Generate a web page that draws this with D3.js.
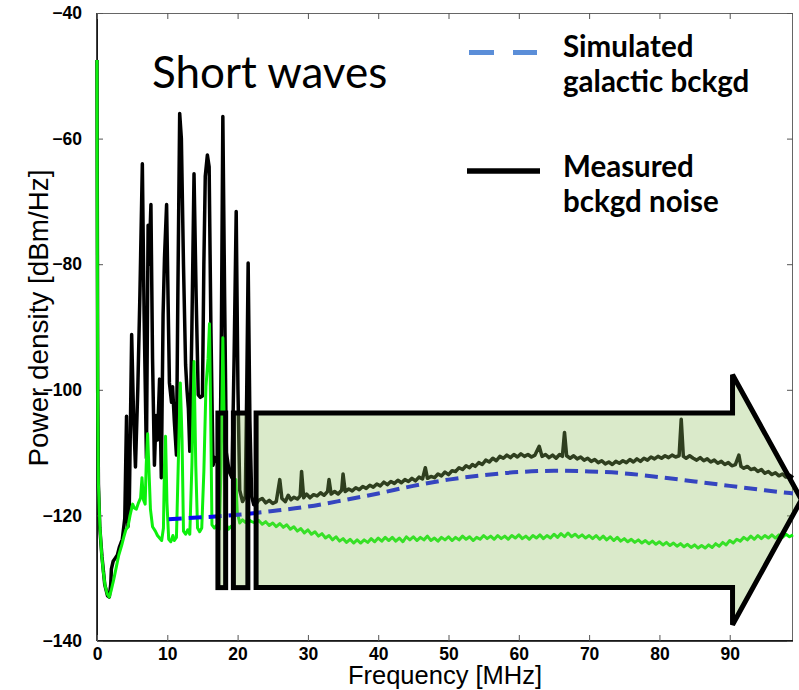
<!DOCTYPE html>
<html><head><meta charset="utf-8">
<script src="https://cdn.jsdelivr.net/npm/d3@7"></script>
<style>body{margin:0;background:#fff}svg{display:block}</style>
</head><body>
<svg id="chart" width="799" height="690"></svg>
<script>
// ---------- DATA ----------
const xTicks = [0,10,20,30,40,50,60,70,80,90];
const yTicks = [-40,-60,-80,-100,-120,-140];

// Measured background noise (black) [MHz, dBm/Hz]
const measured = [
[0,-47.5],[0.1,-100],[0.2,-115],[0.4,-122],[0.7,-126.5],[1.1,-131],[1.5,-132.8],[1.75,-133],[1.95,-131],[2.05,-128.5],[2.3,-127.3],[2.6,-126.8],[2.9,-126.3],[3.2,-125],[3.6,-123.8],[3.95,-120.5],[4.2,-104.2],[4.4,-121.8],[4.6,-118],[4.93,-91.2],[5.2,-104],[5.47,-112.3],[5.8,-100],[6.1,-85],[6.45,-64],[6.7,-88],[7.03,-110.9],[7.27,-73.8],[7.4,-80],[7.67,-70.5],[7.9,-95],[8.17,-112],[8.4,-104.1],[8.6,-108],[8.9,-98.3],[9.15,-114],[9.4,-88],[9.6,-79],[9.9,-70.5],[10.1,-85],[10.3,-98.9],[10.6,-102],[10.75,-99.5],[11.0,-105],[11.3,-110.4],[11.5,-85],[11.76,-56],[12.0,-60],[12.3,-80],[12.6,-96],[12.8,-100],[13.0,-103],[13.2,-109.8],[13.5,-90],[13.8,-65.6],[14.1,-85],[14.4,-100.8],[14.7,-101.2],[15.0,-101],[15.2,-80],[15.4,-66],[15.7,-62.6],[15.95,-64.5],[16.2,-90],[16.5,-112],[16.8,-110.8],[17.1,-111.5],[17.5,-112],[17.7,-90],[17.9,-56.5],[18.15,-85],[18.4,-110],[18.8,-113],[19.2,-114],[19.5,-95],[19.8,-71.6],[20.05,-100],[20.3,-116],[20.7,-117.8],[21.1,-117],[21.3,-100],[21.5,-79.8],[21.75,-105],[22.0,-117],[22.3,-118.3],
[22.5,-118.4],[23,-117.6],[23.5,-117.3],[24,-118.0],[24.5,-117.6],[25,-118.1],[25.5,-117.8],[26.0,-114.3],[26.3,-117.3],[26.8,-117.8],[27.2,-116.8],[27.6,-117.5],[28.0,-117.1],[28.5,-117.4],[28.9,-116.9],[29.1,-113.0],[29.4,-117.2],[29.8,-116.6],[30.3,-117.2],[30.8,-116.7],[31.3,-116.9],[31.8,-116.4],[32.3,-116.8],[32.8,-116.2],[33.0,-114.3],[33.3,-116.6],[33.8,-116.2],[34.3,-116.6],[34.8,-116.0],[35.0,-113.4],[35.3,-116.2],[35.8,-115.8],[36.3,-116.1],[36.8,-115.6],[37.3,-115.9],[37.8,-115.4],[38.3,-115.7],[38.8,-115.2],[39.3,-115.5],[39.8,-115.0],[40.3,-115.3],[40.8,-114.7],[41.3,-115.1],[41.8,-114.6],[42.3,-114.9],[42.8,-114.4],[43.3,-114.8],[43.8,-114.3],[44.3,-114.6],[44.8,-114.1],[45.3,-114.5],[45.8,-113.9],[46.3,-114.2],[46.7,-112.4],[47.0,-114.1],[47.5,-113.8],[48.0,-114.0],[48.5,-113.4],[49.0,-113.7],[49.5,-113.1],[50.0,-113.5],[50.5,-112.9],[51.0,-113.0],[51.5,-112.4],[52.0,-112.7],[52.5,-112.1],[53.0,-112.4],[53.4,-111.9],[53.8,-112.2],[54.3,-111.6],[54.8,-111.9],[55.3,-111.2],[55.8,-111.5],[56.3,-110.9],[56.8,-111.3],[57.3,-110.6],[57.8,-110.9],[58.3,-110.4],[58.8,-110.8],[59.3,-110.3],[59.8,-110.7],[60.3,-110.2],[60.8,-110.6],[61.3,-110.3],[61.8,-110.7],[62.3,-110.4],[62.9,-109.0],[63.3,-110.6],[63.8,-110.3],[64.3,-110.8],[64.8,-110.4],[65.3,-110.9],[65.8,-110.3],[66.2,-110.6],[66.5,-106.8],[66.8,-110.5],[67.3,-110.9],[67.8,-110.5],[68.3,-111.0],[68.8,-110.7],[69.3,-111.2],[69.8,-110.9],[70.3,-111.4],[70.8,-111.1],[71.3,-111.6],[71.8,-111.3],[72.3,-111.8],[72.8,-111.5],[73.3,-111.9],[73.8,-111.4],[74.3,-111.7],[74.8,-111.3],[75.3,-111.6],[75.8,-111.1],[76.3,-111.5],[76.8,-111.0],[77.3,-111.4],[77.8,-110.9],[78.3,-111.2],[78.8,-110.7],[79.3,-111.0],[79.8,-110.6],[80.3,-110.9],[80.8,-110.5],[81.3,-110.8],[81.8,-110.4],[82.3,-110.7],[82.8,-110.5],[83.1,-104.7],[83.4,-110.6],[83.8,-110.9],[84.3,-110.5],[84.8,-110.9],[85.3,-111.2],[85.8,-110.8],[86.3,-111.3],[86.8,-111.0],[87.3,-111.5],[87.8,-111.2],[88.3,-111.7],[88.8,-111.4],[89.3,-111.9],[89.8,-111.6],[90.3,-112.1],[90.8,-111.9],[91.3,-110.4],[91.6,-112.2],[92.0,-112.5],[92.5,-112.2],[93.0,-112.7],[93.5,-112.5],[94.0,-113.0],[94.5,-112.7],[95.0,-113.3],[95.5,-113.0],[96.0,-113.5],[96.5,-113.2],[97.0,-113.7],[97.5,-113.4],[98.0,-113.9],[98.5,-113.6],[99.0,-114.0]
];

// Second measured trace (green)
const greenTrace = [
[0,-47.5],[0.05,-80],[0.12,-105],[0.2,-115],[0.4,-121.5],[0.67,-126.3],[0.9,-129],[1.15,-131.2],[1.45,-132.5],[1.75,-133],[2.05,-131.8],[2.4,-130.1],[2.75,-128.2],[3.1,-126.3],[3.5,-124.8],[3.8,-123.5],[4.1,-122.3],[4.4,-121.8],[4.7,-120],[5.07,-118.2],[5.3,-118.8],[5.6,-119],[5.9,-118],[6.2,-117.2],[6.4,-114],[6.6,-117.5],[6.85,-118.2],[7.0,-112],[7.2,-107],[7.4,-113],[7.6,-119],[7.9,-121.8],[8.3,-122.5],[8.6,-123.2],[8.9,-123.6],[9.2,-124],[9.45,-122],[9.6,-112],[9.75,-107.4],[9.95,-118],[10.2,-123.8],[10.5,-124.2],[10.8,-123.2],[11.0,-124],[11.3,-123.5],[11.6,-110],[11.85,-98.9],[12.1,-108],[12.3,-122.5],[12.6,-123],[12.9,-122.3],[13.2,-123],[13.5,-112],[13.8,-95.5],[14.05,-112],[14.3,-122],[14.6,-122.6],[14.9,-122],[15.2,-113],[15.5,-99.4],[15.8,-95],[16.0,-89.5],[16.15,-102],[16.35,-121.5],[16.7,-122],[17.0,-121.6],[17.4,-122.2],[17.65,-112],[17.9,-91.7],[18.15,-110],[18.4,-121.5],[18.7,-122.2],[19.0,-121.8],[19.4,-121.5],[19.6,-118],[19.75,-114.3],[19.95,-119.5],[20.3,-121.2],[20.7,-120.7],[21.1,-121.1],[21.5,-120.6],[22.0,-121.0],
[22.5,-121.2],[23,-120.8],[23.5,-121.4],[24,-121.0],[24.5,-121.6],[25,-121.2],[25.5,-121.8],[26,-121.3],[26.5,-121.9],[27,-121.5],[27.5,-122.2],[28,-121.8],[28.5,-122.5],[29,-122.1],[29.5,-122.8],[30,-122.3],[30.5,-123.0],[31,-122.6],[31.5,-123.3],[32,-122.9],[32.5,-123.6],[33,-123.2],[33.5,-123.9],[34,-123.4],[34.5,-124.1],[35,-123.7],[35.5,-124.3],[36,-123.8],[36.5,-124.4],[37,-123.9],[37.5,-124.4],[38,-123.9],[38.5,-124.3],[39,-123.7],[39.5,-124.2],[40,-123.6],[40.5,-124.1],[41,-123.5],[41.5,-124.0],[42,-123.5],[42.5,-124.1],[43,-123.6],[43.5,-124.2],[44,-123.4],[44.5,-123.9],[45,-123.4],[45.5,-124.0],[46,-123.5],[46.5,-123.9],[47,-123.3],[47.5,-124.0],[48,-123.6],[48.5,-124.1],[49,-123.5],[49.5,-123.9],[50,-123.4],[50.5,-124.0],[51,-123.5],[51.5,-123.9],[52,-123.3],[52.5,-123.8],[53,-123.4],[53.5,-124.0],[54,-123.5],[54.5,-123.8],[55,-123.2],[55.5,-123.7],[56,-123.3],[56.5,-123.8],[57,-123.2],[57.5,-123.7],[58,-123.3],[58.5,-123.8],[59,-123.2],[59.5,-123.6],[60,-123.1],[60.5,-123.7],[61,-123.3],[61.5,-123.8],[62,-123.2],[62.5,-123.6],[63,-123.1],[63.5,-123.7],[64,-123.2],[64.5,-123.6],[65,-123.0],[65.5,-123.5],[66,-122.9],[66.5,-123.4],[67,-122.8],[67.5,-123.4],[68,-123.0],[68.5,-123.5],[69,-123.1],[69.5,-123.6],[70,-123.2],[70.5,-123.7],[71,-123.2],[71.5,-123.8],[72,-123.3],[72.5,-123.9],[73,-123.4],[73.5,-124.0],[74,-123.5],[74.5,-124.1],[75,-123.7],[75.5,-124.2],[76,-123.8],[76.5,-124.3],[77,-123.9],[77.5,-124.4],[78,-124.0],[78.5,-124.5],[79,-124.1],[79.5,-124.6],[80,-124.2],[80.5,-124.7],[81,-124.3],[81.5,-124.8],[82,-124.4],[82.5,-124.9],[83,-124.5],[83.5,-125.0],[84,-124.6],[84.5,-125.1],[85,-124.7],[85.5,-125.2],[86,-124.8],[86.5,-125.2],[87,-124.7],[87.5,-125.1],[88,-124.5],[88.5,-124.9],[89,-124.3],[89.5,-124.7],[90,-124.0],[90.5,-124.4],[91,-123.8],[91.5,-124.1],[92,-123.5],[92.5,-123.9],[93,-123.3],[93.5,-123.8],[94,-123.2],[94.5,-123.7],[95,-123.2],[95.5,-123.6],[96,-123.1],[96.5,-123.6],[97,-123.1],[97.5,-123.5],[98,-123.0],[98.5,-123.4],[99,-123.1]
];

// Simulated galactic background (blue dashed)
const simFreq  = [10.2,15,20,25,30,35,40,45,50,55,60,65,70,75,80,85,90,95,99];
const simPower = [-120.6,-120.3,-119.9,-119.3,-118.6,-117.6,-116.5,-115.3,-114.3,-113.6,-113.1,-112.9,-113.0,-113.3,-113.9,-114.6,-115.3,-116.0,-116.5];

// Arrow annotation outline, in data units [MHz, dBm/Hz]
const arrowShape = [[22.63,-103.7],[90.4,-103.7],[90.4,-97.6],[100.2,-117.5],[90.4,-137.4],[90.4,-131.5],[22.63,-131.5]];
const arrowStripes = [[17.2,18.3],[19.4,21.46]]; // tail stripes [from,to] MHz
const stripeTop = -103.7, stripeBottom = -131.5;

const legendItems = ["Simulated","galactic bckgd","Measured","bckgd noise"];

// ---------- CHART ----------
const svg = d3.select("#chart");
const L = 97, R = 793, T = 13, B = 641;
const x = d3.scaleLinear().domain([0,99]).range([L,R]);
const y = d3.scaleLinear().domain([-140,-40]).range([B,T]);

// frame
svg.append("rect").attr("x",L+0.5).attr("y",T+0.5).attr("width",R-L-1).attr("height",B-T-1)
  .attr("fill","none").attr("stroke","#666").attr("stroke-width",1);
svg.append("line").attr("x1",L).attr("x2",L).attr("y1",T).attr("y2",B).attr("stroke","#000").attr("stroke-width",1.5);
svg.append("line").attr("x1",L).attr("x2",R).attr("y1",B).attr("y2",B).attr("stroke","#000").attr("stroke-width",1.5);

// axes (inward ticks)
const fontTick = "'Liberation Sans', Arial, sans-serif";
const xAx = svg.append("g").attr("transform",`translate(0,${B})`)
  .call(d3.axisBottom(x).tickValues(xTicks).tickSize(-6).tickPadding(10).tickFormat(d3.format("d")));
const xAxT = svg.append("g").attr("transform",`translate(0,${T})`)
  .call(d3.axisTop(x).tickValues(xTicks).tickSize(-6).tickFormat(""));
const yAx = svg.append("g").attr("transform",`translate(${L},0)`)
  .call(d3.axisLeft(y).tickValues(yTicks).tickSize(-6).tickPadding(15).tickFormat(d3.format("d")));
const yAxR = svg.append("g").attr("transform",`translate(${R},0)`)
  .call(d3.axisRight(y).tickValues(yTicks).tickSize(-6).tickFormat(""));
[xAx,xAxT,yAx,yAxR].forEach(g=>{
  g.select(".domain").remove();
  g.selectAll(".tick line").attr("stroke","#555").attr("stroke-width",1);
  g.selectAll(".tick text").attr("font-family",fontTick).attr("font-weight","bold")
   .attr("font-size",17.5).attr("fill","#000");
});
xAx.selectAll(".tick text").attr("dy","0.5em");

// axis titles
svg.append("text").attr("x",445).attr("y",684).attr("text-anchor","middle")
  .attr("font-family",fontTick).attr("font-size",25.5).text("Frequency [MHz]");
svg.append("text").attr("transform","translate(48,318) rotate(-90)").attr("text-anchor","middle")
  .attr("font-family",fontTick).attr("font-size",28)
  .attr("textLength",297).attr("lengthAdjust","spacingAndGlyphs").text("Power density [dBm/Hz]");

// lines
const line = d3.line().x(d=>x(d[0])).y(d=>y(d[1]));
svg.append("path").datum(measured).attr("d",line).attr("fill","none")
  .attr("stroke","#000").attr("stroke-width",3.5).attr("stroke-linejoin","round");
svg.append("path").datum(greenTrace).attr("d",line).attr("fill","none")
  .attr("stroke","#0cf00c").attr("stroke-width",3).attr("stroke-linejoin","round");
const simLine = d3.line().curve(d3.curveMonotoneX).x((d,i)=>x(simFreq[i])).y(d=>y(d));
svg.append("path").datum(simPower).attr("d",simLine).attr("fill","none")
  .attr("stroke","#0a0af0").attr("stroke-width",4).attr("stroke-dasharray","13 7");

// arrow annotation
const arrowFill = "rgba(142,191,94,0.33)";
arrowStripes.forEach(s=>{
  svg.append("rect").attr("x",x(s[0])).attr("y",y(stripeTop))
    .attr("width",x(s[1])-x(s[0])).attr("height",y(stripeBottom)-y(stripeTop))
    .attr("fill",arrowFill).attr("stroke","#000").attr("stroke-width",5);
});
svg.append("path").attr("d",d3.line().x(d=>x(d[0])).y(d=>y(d[1]))(arrowShape)+"Z")
  .attr("fill",arrowFill).attr("stroke","#000").attr("stroke-width",5).attr("stroke-linejoin","miter");

// title text
svg.append("text").attr("x",152).attr("y",88).attr("font-family","Lato, 'Open Sans', sans-serif")
  .attr("font-size",44).attr("fill","#000").text("Short waves");

// legend
svg.append("line").attr("x1",469).attr("x2",537).attr("y1",52.5).attr("y2",52.5)
  .attr("stroke","#5b8ed8").attr("stroke-width",5).attr("stroke-dasharray","25 19");
svg.append("line").attr("x1",467).attr("x2",540).attr("y1",171).attr("y2",171)
  .attr("stroke","#000").attr("stroke-width",5.5);
const legY = [57,92,177,212];
legendItems.forEach((t,i)=>{
  svg.append("text").attr("x",563).attr("y",legY[i]).attr("font-family","Lato, 'Open Sans', sans-serif")
    .attr("font-weight","bold").attr("font-size",29.5).attr("fill","#000").text(t);
});
</script>
</body></html>
